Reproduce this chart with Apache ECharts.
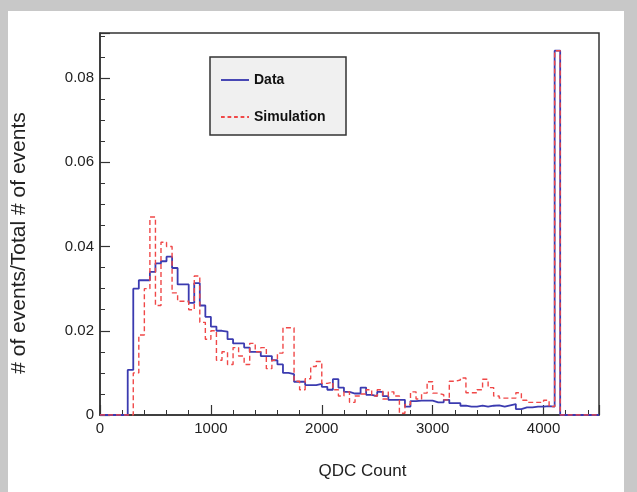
<!DOCTYPE html>
<html><head><meta charset="utf-8">
<script src="https://cdn.jsdelivr.net/npm/echarts@6/dist/echarts.min.js"></script>
<style>html,body{margin:0;padding:0;background:#c8c8c8}#c{width:637px;height:492px}</style>
</head><body><div id="c"></div>
<script>
// histogram binning (QDC count)
const binWidth = 50;
const firstBinStart = 250;
const xMax = 4500;
// normalized counts per bin, bins start at 250 and step by 50
const dataValues = [
 0.0107,0.030,0.032,0.032,0.034,0.036,0.0365,0.0376,0.0349,0.031,
 0.031,0.0266,0.0313,0.026,0.0233,0.021,0.020,0.0198,0.018,0.017,
 0.017,0.016,0.015,0.015,0.014,0.014,0.013,0.012,0.010,0.0097,
 0.0079,0.0079,0.0071,0.0071,0.0074,0.0067,0.006,0.0085,0.0065,0.0055,
 0.0051,0.0051,0.0065,0.0048,0.0045,0.0055,0.0045,0.0036,0.0036,0.0036,
 0.002,0.0033,0.0034,0.0034,0.0034,0.003,0.003,0.0036,0.0028,0.0028,
 0.0022,0.002,0.002,0.0022,0.002,0.0022,0.0023,0.002,0.0023,0.0026,
 0.0014,0.0018,0.0018,0.002,0.002,0.0021,0.002,0.0865
];
const simValues = [
 0,0.010,0.019,0.030,0.047,0.026,0.041,0.040,0.029,0.027,
 0.027,0.025,0.033,0.022,0.018,0.020,0.013,0.015,0.012,0.016,
 0.014,0.012,0.017,0.015,0.016,0.011,0.013,0.0147,0.0207,0.0207,
 0.008,0.006,0.0086,0.0115,0.0127,0.0075,0.0078,0.006,0.0045,0.0055,
 0.003,0.0045,0.005,0.006,0.0045,0.006,0.0038,0.0055,0.0045,0.0004,
 0.0025,0.0055,0.0038,0.0052,0.0079,0.0052,0.0048,0.0036,0.008,0.0083,
 0.0088,0.0053,0.0053,0.006,0.0085,0.0065,0.0045,0.004,0.004,0.004,
 0.0053,0.0035,0.003,0.003,0.003,0.0035,0.002,0.0865
];
const seriesNames = ['Data','Simulation'];
const xTitle = 'QDC Count';
const yTitle = '# of events/Total # of events';

function histPoints(vals){
  const pts = [[0,0]];
  vals.forEach((v,i)=>pts.push([firstBinStart + i*binWidth, v]));
  pts.push([firstBinStart + vals.length*binWidth, 0]);
  pts.push([xMax, 0]);
  return pts;
}

const font = "'Liberation Sans',Arial,sans-serif";
const blue = '#3b3bb0', red = '#f04848';
const solidIcon = 'path://M0,0H30V2H0Z';
const dashIcon = 'path://M0,0H4V2H0Z M7,0H11V2H7Z M14,0H18V2H14Z M21,0H25V2H21Z M28,0H30V2H28Z';
const chart = echarts.init(document.getElementById('c'), null, {renderer:'canvas'});
chart.setOption({
  backgroundColor: '#c8c8c8',
  animation: false,
  graphic: [
    {type:'rect', z:-10, shape:{x:8,y:11,width:616,height:481}, style:{fill:'#ffffff'}},
    {type:'rect', z:5, shape:{x:210,y:57,width:136,height:78}, style:{fill:'#f0f0f0', stroke:'#333', lineWidth:1.5}}
  ],
  grid: {left:100, right:38, top:33, bottom:77, show:true, borderColor:'#333', borderWidth:1.5, backgroundColor:'transparent'},
  legend: {
    left: 216, top: 68, orient:'vertical', z: 10, itemGap: 23, itemWidth: 28, itemHeight: 14,
    symbolKeepAspect: true,
    textStyle: {fontFamily: font, fontWeight:'bold', fontSize: 14, color:'#111'},
    data: [{name: seriesNames[0], icon: solidIcon}, {name: seriesNames[1], icon: dashIcon}]
  },
  xAxis: {
    type:'value', min:0, max:xMax, interval:1000,
    name: xTitle, nameLocation:'middle', nameGap: 48,
    nameTextStyle: {fontFamily: font, fontSize: 17, color:'#222', padding:[0,0,0,26]},
    axisLine: {show:true, lineStyle:{color:'#333', width:1.5}},
    axisTick: {inside:true, length:10, lineStyle:{color:'#333', width:1.2}},
    minorTick: {show:true, splitNumber:5, length:5, lineStyle:{color:'#333', width:1}},
    axisLabel: {fontFamily: font, fontSize: 15, color:'#222', margin: 6, showMaxLabel:false, formatter: v => String(v)},
    splitLine: {show:false}
  },
  yAxis: {
    type:'value', min:0, max:0.0907, interval:0.02,
    name: yTitle, nameLocation:'middle', nameGap: 70, nameRotate: 90,
    nameTextStyle: {fontFamily: font, fontSize: 21, color:'#222', padding:[0,38,0,0]},
    axisLine: {show:true, lineStyle:{color:'#333', width:1.5}},
    axisTick: {inside:true, length:10, lineStyle:{color:'#333', width:1.2}},
    minorTick: {show:true, splitNumber:4, length:5, lineStyle:{color:'#333', width:1}},
    axisLabel: {fontFamily: font, fontSize: 15, color:'#222', margin: 6, showMaxLabel:false, formatter: v => String(v)},
    splitLine: {show:false}
  },
  series: [
    {name: seriesNames[0], type:'line', step:'end', symbol:'none', data: histPoints(dataValues),
     lineStyle:{color:blue, width:1.8}, itemStyle:{color:blue}, z:3},
    {name: seriesNames[1], type:'line', step:'end', symbol:'none', data: histPoints(simValues),
     lineStyle:{color:red, width:1.4, type:[5,3]}, itemStyle:{color:red}, z:4}
  ]
});
</script></body></html>
